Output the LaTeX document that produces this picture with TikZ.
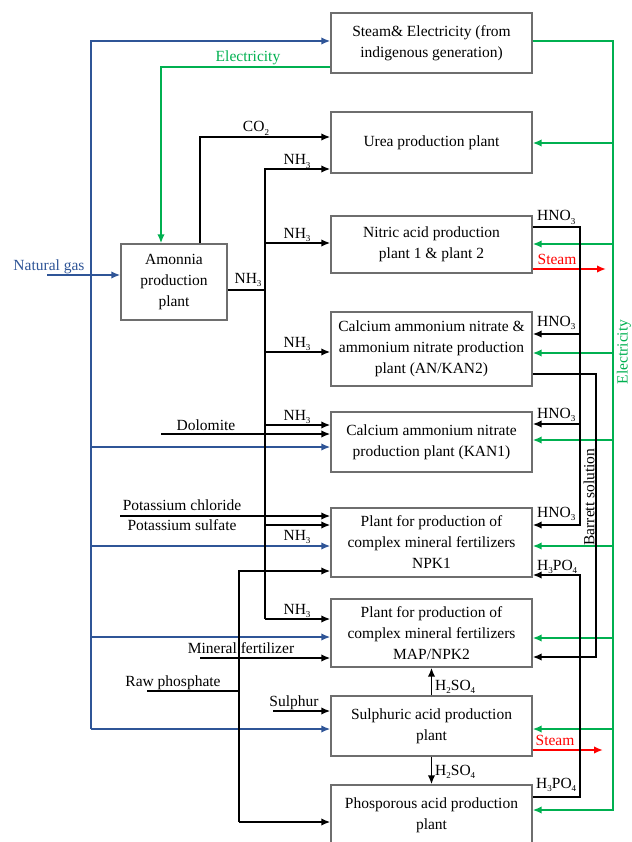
\documentclass[tikz,border=0pt]{standalone}
\usepackage{fontspec}
\setmainfont{Liberation Serif}
\usetikzlibrary{arrows.meta}
\definecolor{gasblue}{RGB}{47,85,151}
\definecolor{elecgreen}{RGB}{0,176,80}
\definecolor{steamred}{RGB}{255,0,0}
\definecolor{boxgray}{RGB}{110,110,110}
\newcommand{\chem}[1]{\raisebox{-0.55ex}{\fontsize{9}{9}\selectfont #1}}

\begin{document}
\begin{tikzpicture}[x=1pt,y=1pt,yscale=-1,xscale=1,
        >={Latex[length=9pt,width=7.5pt]},
        every node/.style={font=\fontsize{15.5}{21}\selectfont},
        plant/.style={draw=boxgray,line width=1.3pt,minimum width=201pt,align=center,inner sep=2pt},
        flow/.style={line width=1.8pt},
        gas/.style={flow,draw=gasblue},
        elec/.style={flow,draw=elecgreen},
        steamline/.style={flow,draw=steamred},
        lbl/.style={inner sep=0pt,anchor=base},
        lblw/.style={inner sep=0pt,anchor=base west}]
        \useasboundingbox (0,0) rectangle (631,842);
        % Plants
        \node[plant,minimum height=60pt] (power) at (431.5,43) {Steam\& Electricity (from\\indigenous generation)};
        \node[plant,minimum height=61pt] (urea) at (431.5,142.5) {Urea production plant};
        \node[plant,minimum height=57pt] (nitric) at (431.5,244.5) {Nitric acid production\\plant 1 \& plant 2};
        \node[plant,minimum height=74pt] (cann) at (431.5,349) {Calcium ammonium nitrate \&\\ammonium nitrate production\\plant (AN/KAN2)};
        \node[plant,minimum height=60pt] (kan) at (431.5,442) {Calcium ammonium nitrate\\production plant (KAN1)};
        \node[plant,minimum height=69pt] (npka) at (431.5,542.5) {Plant for production of\\complex mineral fertilizers\\NPK1};
        \node[plant,minimum height=68pt] (npkb) at (431.5,633) {Plant for production of\\complex mineral fertilizers\\MAP/NPK2};
        \node[plant,minimum height=60pt] (sulf) at (431.5,726) {Sulphuric acid production\\plant};
        \node[plant,minimum height=61pt] (phos) at (431.5,815.5) {Phosporous acid production\\plant};
        \node[plant,minimum width=106pt,minimum height=76pt] (amm) at (174,282) {Amonnia\\production\\plant};

        % Natural gas
        \coordinate (ngin) at (47,275);
        \coordinate (bt) at (91,41);
        \coordinate (bb) at (91,729);
        \draw[gas,->] (ngin) -- (ngin -| amm.west);
        \node[lbl,text=gasblue] (nglbl) at (49,270) {Natural gas};
        \draw[gas,->] (bb) -- (bt) -- (bt -| power.west);
        \draw[gas,->] (bb) -- (bb -| sulf.west);
        \foreach \b/\y in {kan/447,npka/546,npkb/637}
            \draw[gas,->] (bt |- 0,\y) -- (\b.west |- 0,\y);

        % Electricity
        \coordinate (ec) at (161,67);
        \draw[elec,->] (ec -| power.west) -- (ec) -- (ec |- amm.north);
        \node[lbl,text=elecgreen] (elbl) at (248,62) {Electricity};
        \coordinate (gt) at (613,41);
        \coordinate (gb) at (613,810);
        \draw[elec,->] (power.east |- gt) -- (gt) -- (gb) -- (gb -| phos.east);
        \foreach \b/\y in {urea/143,nitric/244,cann/353,kan/440,npka/546,npkb/638,sulf/729}
            \draw[elec,->] (gt |- 0,\y) -- (\b.east |- 0,\y);
        \node[text=elecgreen,rotate=90] (evlbl) at (624,352) {Electricity};

        % Steam
        \coordinate (sta) at (606,269);
        \coordinate (stb) at (603,750);
        \draw[steamline,->] (sta -| nitric.east) -- (sta);
        \draw[steamline,->] (stb -| sulf.east) -- (stb);
        \node[lbl,text=steamred] at (557,264) {Steam};
        \node[lbl,text=steamred] at (555,745) {Steam};

        % CO2
        \coordinate (co2c) at (200,137);
        \draw[flow,->] (co2c |- amm.north) -- (co2c) -- (co2c -| urea.west);
        \node[lbl] at (256,132) {CO\chem{2}};

        % NH3
        \coordinate (nht) at (265,169);
        \coordinate (nhb) at (265,619);
        \coordinate (nho) at (265,290);
        \draw[flow] (nho -| amm.east) -- (nho);
        \draw[flow,->] (nhb) -- (nht) -- (nht -| urea.west);
        \draw[flow,->] (nhb) -- (nhb -| npkb.west);
        \foreach \b/\y in {nitric/243,cann/352,kan/425,npka/525}
            \draw[flow,->] (nht |- 0,\y) -- (\b.west |- 0,\y);
        \node[lbl] at (248,283) {NH\chem{3}};
        \foreach \y in {165,238,347,420,540,614}
            \node[lbl] at (297,\y) {NH\chem{3}};

        % Raw materials
        \coordinate (dolo) at (161,434);
        \draw[flow,->] (dolo) -- (dolo -| kan.west);
        \node[lbl] at (206,430) {Dolomite};
        \coordinate (pot) at (120,516);
        \draw[flow,->] (pot) -- (pot -| npka.west);
        \node[lbl] at (182,510) {Potassium chloride};
        \node[lbl] at (182,530) {Potassium sulfate};
        \coordinate (rpt) at (239,571);
        \coordinate (rpb) at (239,822);
        \coordinate (raw) at (147,691);
        \draw[flow,->] (rpb) -- (rpt) -- (rpt -| npka.west);
        \draw[flow,->] (rpb) -- (rpb -| phos.west);
        \draw[flow] (raw) -- (raw -| rpt);
        \node[lbl] at (173,686) {Raw phosphate};
        \coordinate (mf) at (200,658);
        \draw[flow,->] (mf) -- (mf -| npkb.west);
        \node[lbl] at (241,653) {Mineral fertilizer};
        \coordinate (sul) at (273,711);
        \draw[flow,->] (sul) -- (sul -| sulf.west);
        \node[lbl] at (294,706) {Sulphur};

        % H2SO4
        \draw[flow,->] (sulf.north) -- (npkb.south);
        \draw[flow,->] (sulf.south) -- (phos.north);
        \node[lblw] at (435,690) {H\chem{2}SO\chem{4}};
        \node[lblw] at (435,775) {H\chem{2}SO\chem{4}};

        % HNO3
        \coordinate (hnt) at (580,227);
        \coordinate (hnb) at (580,525);
        \draw[flow,->] (hnt -| nitric.east) -- (hnt) -- (hnb) -- (hnb -| npka.east);
        \foreach \b/\y in {cann/334,kan/424}
            \draw[flow,->] (hnt |- 0,\y) -- (\b.east |- 0,\y);
        \foreach \y in {221,326,418,517}
            \node[lblw] at (537,\y) {HNO\chem{3}};

        % H3PO4
        \coordinate (hpt) at (580,575);
        \coordinate (hpb) at (580,797);
        \draw[flow,->] (hpb -| phos.east) -- (hpb) -- (hpt) -- (hpt -| npka.east);
        \node[lblw] at (537,570) {H\chem{3}PO\chem{4}};
        \node[lblw] at (536,788) {H\chem{3}PO\chem{4}};

        % Barrett solution
        \coordinate (bst) at (596,374);
        \coordinate (bsb) at (596,657);
        \draw[flow,->] (bst -| cann.east) -- (bst) -- (bsb) -- (bsb -| npkb.east);
        \node[rotate=90] at (589,497) {Barrett solution};
\end{tikzpicture}
\end{document}
